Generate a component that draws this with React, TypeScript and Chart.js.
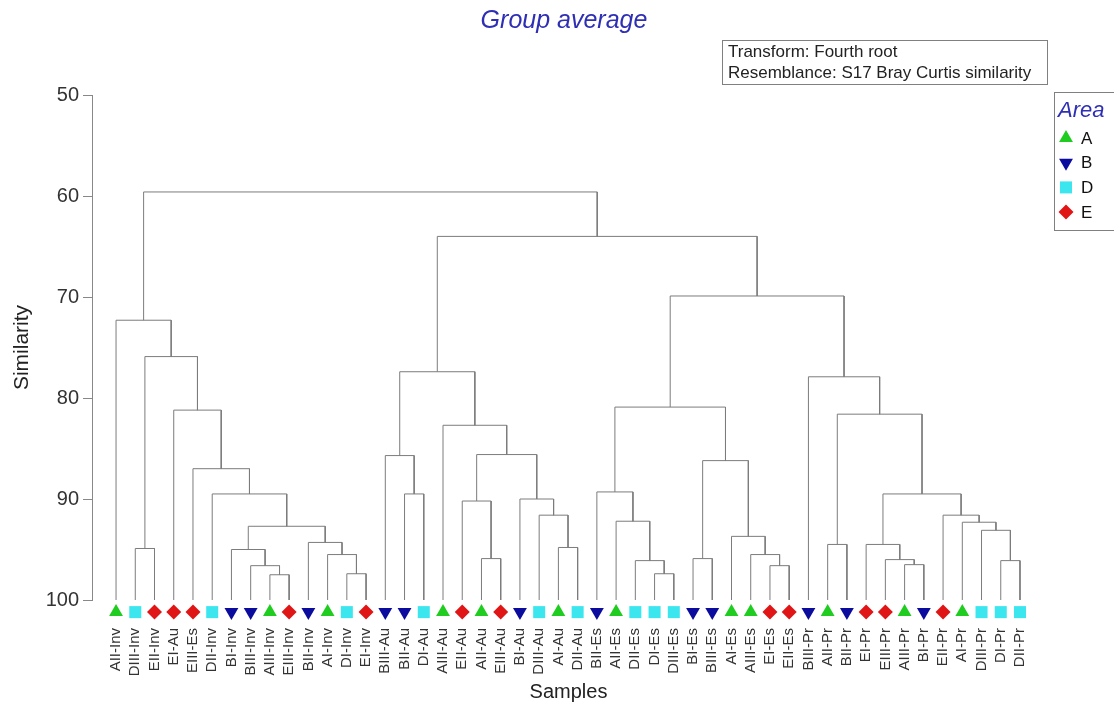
import React, { useEffect, useRef } from 'react';
import { Chart, registerables } from 'chart.js';

Chart.register(...registerables);

// ---- Data ----
const sampleLabels: string[] = [
  'AII-Inv', 'DIII-Inv', 'EII-Inv', 'EI-Au', 'EIII-Es', 'DII-Inv', 'BI-Inv', 'BIII-Inv',
  'AIII-Inv', 'EIII-Inv', 'BII-Inv', 'AI-Inv', 'DI-Inv', 'EI-Inv', 'BIII-Au', 'BII-Au',
  'DI-Au', 'AIII-Au', 'EII-Au', 'AII-Au', 'EIII-Au', 'BI-Au', 'DIII-Au', 'AI-Au',
  'DII-Au', 'BII-Es', 'AII-Es', 'DII-Es', 'DI-Es', 'DIII-Es', 'BI-Es', 'BIII-Es',
  'AI-Es', 'AIII-Es', 'EI-Es', 'EII-Es', 'BIII-Pr', 'AII-Pr', 'BII-Pr', 'EI-Pr',
  'EIII-Pr', 'AIII-Pr', 'BI-Pr', 'EII-Pr', 'AI-Pr', 'DIII-Pr', 'DI-Pr', 'DII-Pr',
];

const areaNames: string[] = ['A', 'B', 'D', 'E'];

// Merges: node ids 0..47 are samples, merge k creates node 48 + k
const mergeLeft: number[] = [
  1, 8, 7, 6, 12, 11, 10, 51, 5, 4, 3, 48, 0,
  15, 14, 19, 18, 23, 22, 21, 64, 17, 62,
  28, 27, 26, 25, 30, 34, 33, 32, 75, 74,
  37, 41, 40, 39, 46, 45, 44, 43, 84, 81, 36,
  80, 70, 60,
];
const mergeRight: number[] = [
  2, 9, 49, 50, 13, 52, 53, 54, 55, 56, 57, 58, 59,
  16, 61, 20, 63, 24, 65, 66, 67, 68, 69,
  29, 71, 72, 73, 31, 35, 76, 77, 78, 79,
  38, 42, 82, 83, 47, 85, 86, 87, 88, 89, 90,
  91, 92, 93,
];
const mergeSimilarity: number[] = [
  94.9, 97.5, 96.6, 95.0, 97.4, 95.5, 94.3, 92.7, 89.5, 87.0, 81.2, 75.9, 72.3,
  89.5, 85.7, 95.9, 90.2, 94.8, 91.6, 90.0, 85.6, 82.7, 77.4,
  97.4, 96.1, 92.2, 89.3, 95.9, 96.6, 95.5, 93.7, 86.2, 80.9,
  94.5, 96.5, 96.0, 94.5, 96.1, 93.1, 92.3, 91.6, 89.5, 81.6, 77.9,
  69.9, 64.0, 59.6,
];

const yTicks: number[] = [50, 60, 70, 80, 90, 100];

// ---- Styles ----
const FONT = '"Liberation Sans", Arial, Helvetica, sans-serif';
const areaStyle: Record<string, { color: string; style: string; radius: number }> = {
  A: { color: '#20cc20', style: 'up', radius: 8 },
  B: { color: '#0b0b9e', style: 'down', radius: 8 },
  D: { color: '#3ce6ee', style: 'square', radius: 8.5 },
  E: { color: '#e01515', style: 'diamond', radius: 7.5 },
};
const MARKER_LEVEL = 101.2;
const LINE_COLOR = '#7c7c7c';

function buildLinks() {
  const nodeX: number[] = sampleLabels.map((_, i) => i + 1);
  const nodeH: number[] = sampleLabels.map(() => 100);
  const pts: { x: number; y: number | null }[] = [];
  mergeLeft.forEach((a, k) => {
    const b = mergeRight[k];
    const h = mergeSimilarity[k];
    pts.push(
      { x: nodeX[a], y: nodeH[a] },
      { x: nodeX[a], y: h },
      { x: nodeX[b], y: h },
      { x: nodeX[b], y: nodeH[b] },
      { x: nodeX[b], y: null },
    );
    nodeX.push((nodeX[a] + nodeX[b]) / 2);
    nodeH.push(h);
  });
  return pts;
}

function drawMarker(ctx: CanvasRenderingContext2D, area: string, x: number, y: number) {
  const s = areaStyle[area];
  ctx.fillStyle = s.color;
  ctx.beginPath();
  const r = s.radius;
  if (s.style === 'up' || s.style === 'down') {
    const dir = s.style === 'down' ? -1 : 1;
    ctx.moveTo(x, y - dir * r);
    ctx.lineTo(x + r * Math.sin(Math.PI * 2 / 3), y + dir * r / 2);
    ctx.lineTo(x - r * Math.sin(Math.PI * 2 / 3), y + dir * r / 2);
  } else if (s.style === 'square') {
    const h = r * Math.SQRT1_2;
    ctx.rect(x - h, y - h, 2 * h, 2 * h);
  } else {
    ctx.moveTo(x - r, y);
    ctx.lineTo(x, y - r);
    ctx.lineTo(x + r, y);
    ctx.lineTo(x, y + r);
  }
  ctx.closePath();
  ctx.fill();
}

const decorations = {
  id: 'decorations',
  afterDraw(chart: any) {
    const ctx: CanvasRenderingContext2D = chart.ctx;
    const xs = chart.scales.x;
    const ys = chart.scales.y;
    ctx.save();
    // sample markers at the leaf positions (through the chart's scales)
    const my = ys.getPixelForValue(MARKER_LEVEL);
    sampleLabels.forEach((lab, i) => {
      drawMarker(ctx, lab.charAt(0), xs.getPixelForValue(i + 1), my);
    });

    // title
    ctx.font = `italic 25px ${FONT}`;
    ctx.fillStyle = '#2f2fb5';
    ctx.textAlign = 'center';
    ctx.textBaseline = 'middle';
    ctx.fillText('Group average', 564, 21);

    // info box
    ctx.strokeStyle = '#808080';
    ctx.lineWidth = 1;
    ctx.strokeRect(722.5, 40.5, 325, 44);
    ctx.font = `17px ${FONT}`;
    ctx.fillStyle = '#222';
    ctx.textAlign = 'left';
    ctx.fillText('Transform: Fourth root', 728, 52);
    ctx.fillText('Resemblance: S17 Bray Curtis similarity', 728, 73);

    // legend
    ctx.strokeRect(1054.5, 92.5, 80, 138);
    ctx.font = `italic 22px ${FONT}`;
    ctx.fillStyle = '#2f2fb5';
    ctx.fillText('Area', 1058, 111);
    ctx.font = `17px ${FONT}`;
    areaNames.forEach((a, i) => {
      const y = 138 + i * 24.7;
      drawMarker(ctx, a, 1066, y);
      ctx.fillStyle = '#111';
      ctx.fillText(a, 1081, y + 1);
    });
    ctx.restore();
  },
};

export default function App() {
  const ref = useRef<HTMLCanvasElement>(null);
  useEffect(() => {
    const links = buildLinks();
    const chart = new Chart(ref.current!, {
      type: 'scatter',
      data: {
        datasets: [
          {
            label: 'links',
            data: links as any,
            showLine: true,
            spanGaps: false,
            borderColor: LINE_COLOR,
            borderWidth: 1,
            pointRadius: 0,
            clip: false as any,
          } as any,
        ],
      },
      options: {
        responsive: false,
        animation: false,
        layout: { padding: { top: 95, right: 69, left: 0, bottom: 0 } },
        plugins: {
          legend: { display: false },
          tooltip: { enabled: false },
          title: { display: false },
        },
        scales: {
          x: {
            type: 'linear',
            min: -0.25,
            max: 49.3,
            grid: { display: false, drawTicks: false },
            border: { display: false },
            afterBuildTicks: (scale: any) => {
              scale.ticks = sampleLabels.map((_, i) => ({ value: i + 1 }));
            },
            afterFit: (scale: any) => {
              scale.height = 104;
            },
            ticks: {
              autoSkip: false,
              minRotation: 90,
              maxRotation: 90,
              padding: 28,
              color: '#333',
              font: { family: FONT, size: 15 },
              callback: (v: any) => sampleLabels[Math.round(v) - 1] ?? '',
            },
            title: {
              display: true,
              text: 'Samples',
              color: '#222',
              font: { family: FONT, size: 20 },
              padding: { top: 0, bottom: 0 },
            },
          },
          y: {
            type: 'linear',
            reverse: true,
            min: 50,
            max: 100,
            afterBuildTicks: (scale: any) => {
              scale.ticks = yTicks.map((v) => ({ value: v }));
            },
            afterFit: (scale: any) => {
              scale.width = 92;
            },
            grid: {
              display: true,
              drawOnChartArea: false,
              drawTicks: true,
              tickLength: 9,
              color: '#888',
            },
            border: { display: true, color: '#888' },
            ticks: {
              padding: 4,
              color: '#333',
              font: { family: FONT, size: 20 },
            },
            title: {
              display: true,
              text: 'Similarity',
              color: '#222',
              font: { family: FONT, size: 21 },
              padding: { top: 10, bottom: 0 },
            },
          },
        },
      } as any,
      plugins: [decorations],
    });
    return () => chart.destroy();
  }, []);
  return (
    <div style={{ position: 'fixed', left: 0, top: 0, width: 1114, height: 704, background: '#fff', overflow: 'hidden' }}>
      <canvas ref={ref} width={1114} height={704} style={{ display: 'block', width: 1114, height: 704 }} />
    </div>
  );
}
